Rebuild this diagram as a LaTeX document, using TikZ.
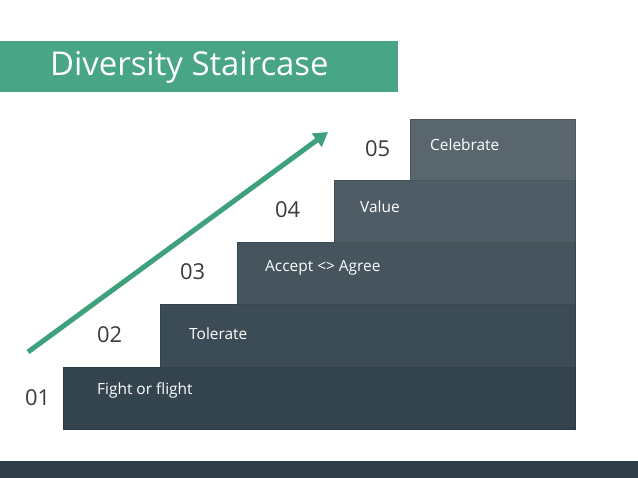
\documentclass[tikz,border=0pt]{standalone}
\usepackage{fontspec}
\setmainfont{Open Sans}
\usepackage{xcolor}
\usetikzlibrary{arrows.meta,positioning}
\definecolor{titlegreen}{HTML}{48A585}
\definecolor{arrowgreen}{HTML}{3FA07C}
\definecolor{footer}{HTML}{2F3E49}
\definecolor{numgray}{HTML}{3A3A3A}
\definecolor{stepA}{HTML}{34444F}
\definecolor{stepB}{HTML}{3C4C56}
\definecolor{stepC}{HTML}{45545D}
\definecolor{stepD}{HTML}{4E5D65}
\definecolor{stepE}{HTML}{59666E}
\tikzset{
	x=1bp, y=-1bp,
	stepbox/.style={anchor=north west, inner sep=0pt, draw=#1!85!black, line width=0.6bp, fill=#1},
	steptext/.style={anchor=west, text=white, font=\fontsize{15.5}{18}\selectfont, inner sep=0pt},
	stepnum/.style={anchor=west, text=numgray, font=\fontsize{22}{26}\selectfont, inner sep=0pt},
}

\begin{document}
\begin{tikzpicture}
	\useasboundingbox (0,0) rectangle (638,478);

	% title bar
	\node[fill=titlegreen, anchor=north west, minimum width=398bp, minimum height=51bp, inner sep=0pt] (titlebar) at (0,41) {};
	\node[anchor=west, text=white, font=\fontsize{33}{38}\selectfont, inner sep=0pt] (title) at (50,67) {Diversity Staircase};

	% steps, bottom to top
	\node[stepbox=stepA, minimum width=512bp, minimum height=62bp] (step1) at (63,367) {};
	\node[stepbox=stepB, minimum width=415bp, minimum height=63bp] (step2) at (160,304) {};
	\node[stepbox=stepC, minimum width=338bp, minimum height=62bp] (step3) at (237,242) {};
	\node[stepbox=stepD, minimum width=241bp, minimum height=62bp] (step4) at (334,180) {};
	\node[stepbox=stepE, minimum width=165bp, minimum height=61bp] (step5) at (410,119) {};

	% labels
	\node[steptext] (lab1) at (97,390) {Fight or flight};
	\node[steptext] (lab2) at (189,334) {Tolerate};
	\node[steptext] (lab3) at (265,268) {Accept <> Agree};
	\node[steptext] (lab4) at (360,207) {Value};
	\node[steptext] (lab5) at (430,145) {Celebrate};

	% numbers
	\node[stepnum] (num1) at (25,398) {01};
	\node[stepnum] (num2) at (97,335) {02};
	\node[stepnum] (num3) at (180,272) {03};
	\node[stepnum] (num4) at (275,210) {04};
	\node[stepnum] (num5) at (365,149) {05};

	% arrow
	\coordinate (arrowstart) at (28,352);
	\coordinate (arrowend) at (328,132);
	\draw[arrowgreen, line width=5bp, -{Triangle[length=14bp, width=16bp]}] (arrowstart) -- (arrowend);

	% footer
	\node[fill=footer, anchor=north west, minimum width=638bp, minimum height=17bp, inner sep=0pt] (footerbar) at (0,461) {};
\end{tikzpicture}
\end{document}
